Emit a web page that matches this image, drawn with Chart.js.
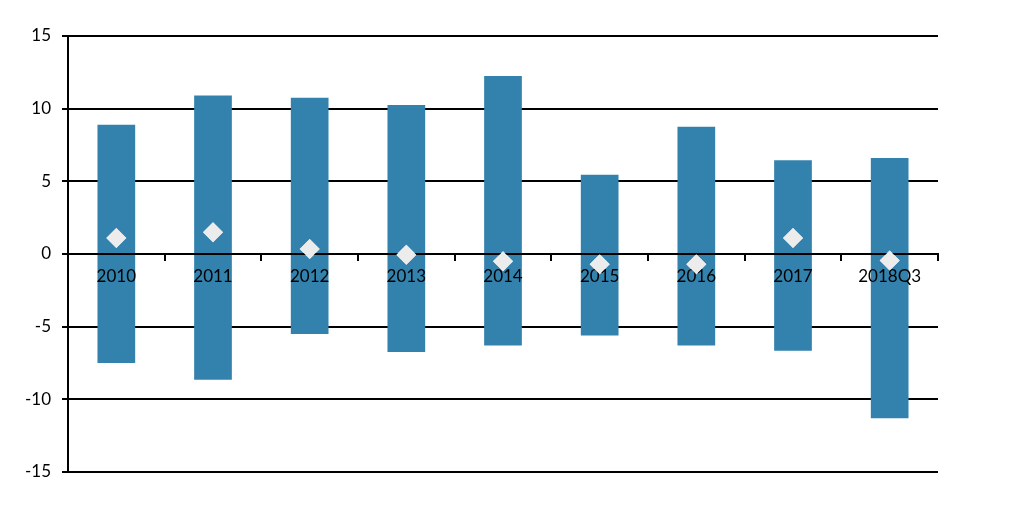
<!DOCTYPE html>
<html lang="en">
<head>
<meta charset="UTF-8">
<title>Range chart</title>
<script src="https://cdn.jsdelivr.net/npm/chart.js"></script>
<style>
  html, body { margin: 0; padding: 0; background: #fff; }
  #wrap { width: 1024px; height: 513px; }
</style>
</head>
<body>
<div id="wrap"><canvas id="grafico"></canvas></div>
<script>
const anos = ['2010', '2011', '2012', '2013', '2014', '2015', '2016', '2017', '2018Q3']
const minimos = [-7.5, -8.65, -5.5, -6.75, -6.3, -5.6, -6.3, -6.65, -11.3]
const maximos = [8.9, 10.9, 10.75, 10.25, 12.25, 5.45, 8.75, 6.45, 6.6]
const marcadores = [1.1, 1.5, 0.35, -0.05, -0.5, -0.7, -0.7, 1.1, -0.45]
const ticksY = [-15, -10, -5, 0, 5, 10, 15]

const faixas = anos.map((a, i) => [minimos[i], maximos[i]])
const fonte = { family: 'Lato', size: 17 }

// os losangos ficam por cima da linha do zero, que e desenhada depois das barras
const losangosPorCima = {
    id: 'losangosPorCima',
    afterDraw(chart) {
        chart.getDatasetMeta(0).controller.draw()
    }
}

new Chart(document.getElementById('grafico'), {
    data: {
        labels: anos,
        datasets: [{
            type: 'line',
            data: marcadores,
            showLine: false,
            pointStyle: 'rectRot',
            pointRadius: 10,
            pointHoverRadius: 10,
            pointBackgroundColor: '#ececec',
            pointBorderColor: '#ececec',
            pointBorderWidth: 0,
            order: 0
        }, {
            type: 'bar',
            data: faixas,
            backgroundColor: '#3282ad',
            borderWidth: 0,
            categoryPercentage: 1,
            barPercentage: 0.39,
            order: 1
        }]
    },
    options: {
        responsive: true,
        maintainAspectRatio: false,
        animation: false,
        layout: { padding: { left: 0, top: 36, right: 86, bottom: 41 } },
        plugins: { legend: { display: false }, tooltip: { enabled: false } },
        scales: {
            x: {
                position: { y: 0 },
                offset: true,
                grid: { offset: true, drawOnChartArea: false, color: '#000', lineWidth: 2, tickLength: 6, z: 1 },
                border: { color: '#000', width: 2, z: 1 },
                ticks: { color: '#000', font: fonte, padding: 6, maxRotation: 0, z: 1 }
            },
            y: {
                min: -15,
                max: 15,
                afterFit: s => { s.width = 68 },
                afterBuildTicks: s => { s.ticks = ticksY.map(v => ({ value: v })) },
                grid: { color: '#000', lineWidth: 2, tickLength: 6 },
                border: { color: '#000', width: 2 },
                ticks: { color: '#000', font: fonte, padding: 11 }
            }
        }
    },
    plugins: [losangosPorCima]
})
</script>
</body>
</html>
